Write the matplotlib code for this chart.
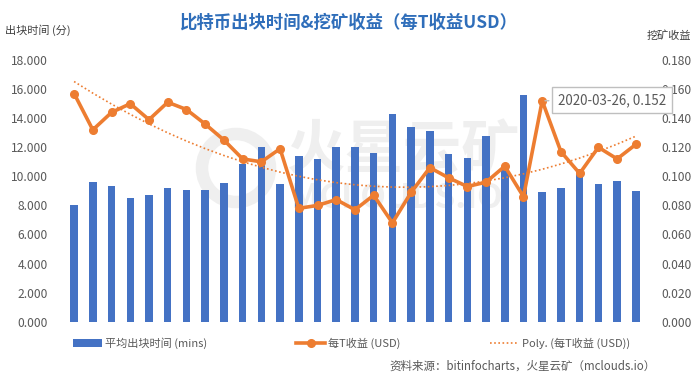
import numpy as np
import matplotlib
matplotlib.use('Agg')
import matplotlib.pyplot as plt
from matplotlib.patches import Circle
from matplotlib.ticker import FormatStrFormatter

plt.rcParams['font.family'] = ['Noto Sans CJK SC', 'DejaVu Sans']

# average block time (mins), 31 periods
block_time = [8.02, 9.60, 9.32, 8.52, 8.70, 9.19, 9.05, 9.05, 9.53, 10.84,
              12.00, 9.46, 11.39, 11.18, 12.00, 12.00, 11.59, 14.27, 13.38, 13.10,
              11.52, 11.25, 12.76, 10.60, 15.58, 8.91, 9.19, 10.54, 9.46, 9.67,
              8.98]
# revenue per TH (USD)
revenue = [0.157, 0.132, 0.144, 0.150, 0.139, 0.151, 0.146, 0.136, 0.125, 0.112,
           0.110, 0.119, 0.078, 0.080, 0.084, 0.077, 0.087, 0.068, 0.089, 0.106,
           0.099, 0.093, 0.096, 0.107, 0.086, 0.152, 0.117, 0.102, 0.120, 0.112,
           0.122]
highlight_idx = 25
highlight_label = '2020-03-26, 0.152'

blue = '#4472C4'
orange = '#ED7D31'
grey = '#595959'
wm = '#efefef'

x = np.arange(len(block_time))

fig = plt.figure(figsize=(6.96, 3.78), dpi=100)
ax = fig.add_axes([0.093, 0.149, 0.834, 0.692])
ax2 = ax.twinx()

# faint watermark (logo ring + text)
fig.patches.append(Circle((236, 378 - 168), 34, transform=None, fill=False,
                          ec=wm, lw=9, zorder=0))
fig.text(0.58, 0.60, '火星云矿', fontsize=42, color=wm, ha='center',
         va='center', fontweight='bold', zorder=0)
fig.text(0.57, 0.475, 'MCLOUDS.IO', fontsize=24, color=wm, ha='center',
         va='center', fontweight='bold', zorder=0)
ax.set_zorder(1)
ax2.set_zorder(2)
ax.patch.set_visible(False)

bars = ax.bar(x, block_time, width=0.4, color=blue, label='平均出块时间 (mins)')
ax.set_ylim(0, 18)
ax.set_yticks(np.arange(0, 18.1, 2))
ax.yaxis.set_major_formatter(FormatStrFormatter('%.3f'))
ax.set_xlim(-0.5, len(x) - 0.5)
ax.set_xticks([])

line, = ax2.plot(x, revenue, color=orange, lw=2.6, marker='o', ms=5.5,
                 label='每T收益 (USD)')
coef = np.polyfit(x, revenue, 2)
trend, = ax2.plot(x, np.polyval(coef, x), color=orange, lw=1.2, ls=(0, (1, 1.5)),
                  label='Poly. (每T收益 (USD))')
ax2.set_ylim(0, 0.18)
ax2.set_yticks(np.arange(0, 0.181, 0.02))
ax2.yaxis.set_major_formatter(FormatStrFormatter('%.3f'))

for a in (ax, ax2):
    for s in a.spines.values():
        s.set_visible(False)
    a.tick_params(axis='y', length=0, labelsize=8.7, labelcolor=grey, pad=12)
    a.tick_params(axis='x', length=0)

ax2.annotate(highlight_label, xy=(highlight_idx, revenue[highlight_idx]),
             xytext=(highlight_idx + 0.85, 0.1525), fontsize=9.6, color=grey,
             va='center', ha='left',
             bbox=dict(boxstyle='square,pad=0.45', fc='white', ec='#bfbfbf', lw=1),
             arrowprops=dict(arrowstyle='-', color='#bfbfbf', lw=1))

fig.text(0.5, 0.94, '比特币出块时间&挖矿收益（每T收益USD）', ha='center', va='center',
         fontsize=12.5, color='#2F6EBA', fontweight='bold')
fig.text(0.007, 0.92, '出块时间 (分)', ha='left', va='center', fontsize=8, color='#404040')
fig.text(0.993, 0.905, '挖矿收益', ha='right', va='center', fontsize=8, color='#404040')

fig.legend(handles=[bars, line, trend], loc='center', bbox_to_anchor=(0.505, 0.092),
           ncol=3, frameon=False, fontsize=8, labelcolor=grey, handlelength=2.6,
           columnspacing=8, handletextpad=0.3)

fig.text(0.942, 0.03, '资料来源：bitinfocharts，火星云矿（mclouds.io）', ha='right',
         va='center', fontsize=8.3, color=grey)

fig.savefig('out.png', dpi=100)
